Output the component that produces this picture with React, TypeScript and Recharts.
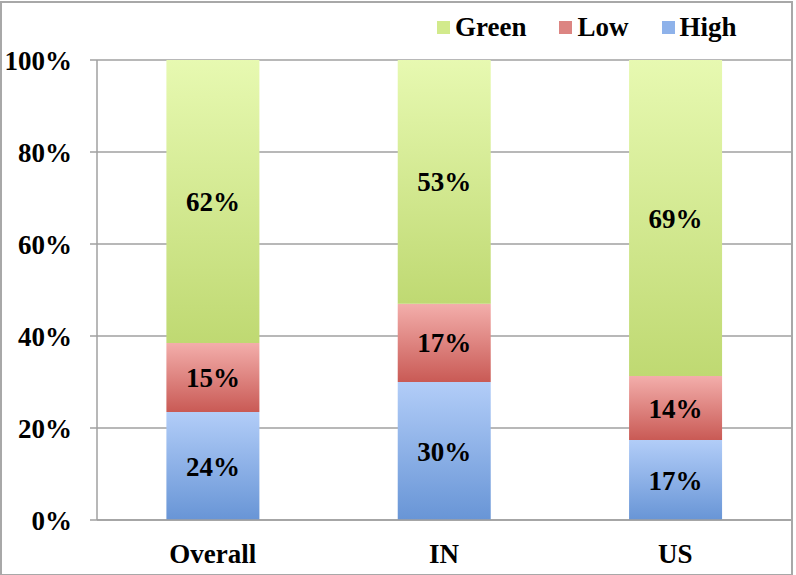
import { Bar, BarChart, CartesianGrid, LabelList, XAxis, YAxis } from "recharts"

const regions = ["Overall", "IN", "US"]
const high = [23.5, 30, 17.4]
const low = [15, 17, 13.9]
const green = [61.5, 53, 68.7]
const yTicks = [0, 20, 40, 60, 80, 100]

const data = regions.map((name, i) => ({ name, high: high[i], low: low[i], green: green[i] }))

const font = "'Liberation Serif', 'Times New Roman', serif"
const labelStyle = { fontFamily: font, fontWeight: 700, fontSize: 27, fill: "#000" }

const legendItems = [
  { name: "Green", color: "#d2ea8c" },
  { name: "Low", color: "#dc8582" },
  { name: "High", color: "#8eb2ea" },
]

function ChartLegend() {
  return (
    <div style={{ position: "absolute", left: 437, top: 10, display: "flex", alignItems: "center", fontFamily: font, fontWeight: 700, fontSize: 27, lineHeight: "34px", color: "#000" }}>
      {legendItems.map((it) => (
        <div key={it.name} style={{ display: "flex", alignItems: "center", marginRight: 33 }}>
          <span style={{ width: 13, height: 13, background: it.color, display: "inline-block", marginRight: 5 }} />
          <span>{it.name}</span>
        </div>
      ))}
    </div>
  )
}

const pct = (v: any) => `${Math.round(Number(v))}%`

export default function App() {
  return (
    <div style={{ position: "absolute", left: 0, top: 0, width: 796, height: 575, background: "#fff" }}>
      <div style={{ position: "absolute", left: 0, top: 1, width: 789, height: 571, border: "2px solid #a8a8a8" }} />
      <BarChart
        width={796}
        height={575}
        data={data}
        margin={{ top: 60, right: 5, bottom: 25, left: 0 }}
        barCategoryGap="30%"
      >
        <defs>
          <linearGradient id="gGreen" x1="0" y1="0" x2="0" y2="1">
            <stop offset="0%" stopColor="#e7f9b1" />
            <stop offset="100%" stopColor="#bfd972" />
          </linearGradient>
          <linearGradient id="gLow" x1="0" y1="0" x2="0" y2="1">
            <stop offset="0%" stopColor="#f3aeab" />
            <stop offset="100%" stopColor="#c95a55" />
          </linearGradient>
          <linearGradient id="gHigh" x1="0" y1="0" x2="0" y2="1">
            <stop offset="0%" stopColor="#b2cdf8" />
            <stop offset="100%" stopColor="#6895d6" />
          </linearGradient>
        </defs>
        <CartesianGrid vertical={false} stroke="#a0a0a0" strokeWidth={1.5} />
        <XAxis
          dataKey="name"
          height={30}
          tickLine={false}
          axisLine={{ stroke: "#a0a0a0", strokeWidth: 1.5 }}
          tickMargin={18}
          tick={labelStyle}
        />
        <YAxis
          domain={[0, 100]}
          ticks={yTicks}
          width={97}
          tickSize={7}
          tickMargin={18}
          tickFormatter={(v) => `${v}%`}
          axisLine={{ stroke: "#a0a0a0", strokeWidth: 1.5 }}
          tickLine={{ stroke: "#a0a0a0", strokeWidth: 1.5 }}
          tick={labelStyle}
        />
        <Bar dataKey="high" name="High" stackId="a" fill="url(#gHigh)" isAnimationActive={false}>
          <LabelList dataKey="high" position="center" formatter={pct} style={labelStyle} />
        </Bar>
        <Bar dataKey="low" name="Low" stackId="a" fill="url(#gLow)" isAnimationActive={false}>
          <LabelList dataKey="low" position="center" formatter={pct} style={labelStyle} />
        </Bar>
        <Bar dataKey="green" name="Green" stackId="a" fill="url(#gGreen)" isAnimationActive={false}>
          <LabelList dataKey="green" position="center" formatter={pct} style={labelStyle} />
        </Bar>
      </BarChart>
      <ChartLegend />
    </div>
  )
}
